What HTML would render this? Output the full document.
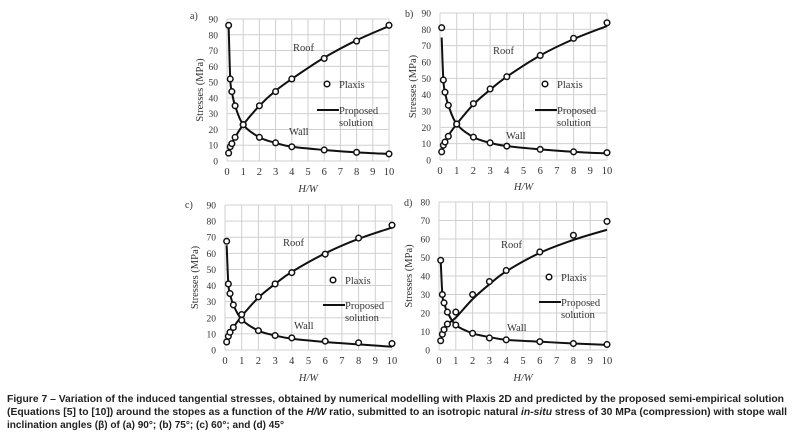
<!DOCTYPE html>
<html><head><meta charset="utf-8"><style>
body{margin:0;background:#fff;width:792px;height:439px;overflow:hidden}
svg{display:block}
.t{font-family:"Liberation Serif",serif;font-size:10.5px;fill:#333}
.cap{font-family:"Liberation Sans",sans-serif;font-size:10px;font-weight:bold;fill:#222}
</style></head><body>
<svg id="s" width="792" height="439" xmlns="http://www.w3.org/2000/svg">
<text class="cap" x="7" y="402" textLength="777" lengthAdjust="spacingAndGlyphs">Figure 7 – Variation of the induced tangential stresses, obtained by numerical modelling with Plaxis 2D and predicted by the proposed semi-empirical solution</text>
<text class="cap" x="7" y="415" textLength="780" lengthAdjust="spacingAndGlyphs">(Equations [5] to [10]) around the stopes as a function of the <tspan font-style="italic">H/W</tspan> ratio, submitted to an isotropic natural <tspan font-style="italic">in-situ</tspan> stress of 30 MPa (compression) with stope wall</text>
<text class="cap" x="7" y="428" textLength="277" lengthAdjust="spacingAndGlyphs">inclination angles (β) of (a) 90°; (b) 75°; (c) 60°; and (d) 45°</text>
</svg>
<script>
const xs=[0.1,0.2,0.3,0.5,1,2,3,4,6,8,10];
const xTicks=[0,1,2,3,4,5,6,7,8,9,10];
const roofA=[5,9,11,15,23,35,44,52,65,76,86];
const wallA=[86,52,44,35,23,15,11.5,9,7,5.5,4.5];
const roofFitA=[5,9,11.5,15,23,35,44.5,52,65.5,76.5,85.5];
const wallFitA=[86,52,44,35,23,15,11.5,9,7,5.5,4.5];
const roofB=[5,9,11,14.5,22,34.5,43.5,51,64,74.5,84];
const wallB=[81,49,41.5,33.5,22,14,10.5,8.5,6.5,5,4.5];
const roofFitB=[5,9,11.5,15,22,34,43,51,64,74,82];
const wallFitB=[75,49,41.5,33.5,22,14,10.5,8.5,6.5,5,4];
const roofC=[5,8.5,11,14,22,33,41,48,59.5,69.5,77.5];
const wallC=[67.5,41,35,28,18.5,12,9,7.5,5.5,4.5,4];
const roofFitC=[5,8.5,11,14,21,32.5,41,48.5,60,69,76];
const wallFitC=[65,41,35,28,19,12,9,7,5,3.5,2];
const roofD=[5,8.5,11,14,20.5,30,37,43,53,62,69.5];
const wallD=[48.5,30,25.5,20.5,13.5,9,6.5,5.5,4.5,3.5,3];
const roofFitD=[5,8.5,11,14,17.5,27.5,35.5,42.5,52.5,59.5,65];
const wallFitD=[48.5,30,25.5,20.5,13.5,9,7,5.5,4.5,3.5,2.8];
const panels=[
 {id:'a',x0:227,x1:389,yT:19,yB:161,ymax:90,roof:roofA,wall:wallA,rf:roofFitA,wf:wallFitA,lab:[190,19],yt:203,xt:192,roofL:[293,51],wallL:[289,135],lg:[327,84,110]},
 {id:'b',x0:440,x1:607,yT:13,yB:160,ymax:90,roof:roofB,wall:wallB,rf:roofFitB,wf:wallFitB,lab:[405,17],yt:416,xt:190,roofL:[493,54],wallL:[506,139],lg:[545,84,110]},
 {id:'c',x0:225,x1:392,yT:205,yB:350,ymax:90,roof:roofC,wall:wallC,rf:roofFitC,wf:wallFitC,lab:[185,208],yt:198,xt:381,roofL:[283,246],wallL:[294,329],lg:[333,280,305]},
 {id:'d',x0:439,x1:607,yT:202,yB:350,ymax:80,roof:roofD,wall:wallD,rf:roofFitD,wf:wallFitD,lab:[404,206],yt:412,xt:381,roofL:[501,248],wallL:[507,331],lg:[549,277,302]}
];
const S=document.getElementById('s');const NS='http://www.w3.org/2000/svg';
function mk(tag,at,parent){const e=document.createElementNS(NS,tag);for(const k in at)e.setAttribute(k,at[k]);(parent||S).appendChild(e);return e;}
function path(pts){let d='M'+pts[0][0]+','+pts[0][1];for(let i=0;i<pts.length-1;i++){const p0=pts[Math.max(0,i-1)],p1=pts[i],p2=pts[i+1],p3=pts[Math.min(pts.length-1,i+2)];const c1=[p1[0]+(p2[0]-p0[0])/6,p1[1]+(p2[1]-p0[1])/6],c2=[p2[0]-(p3[0]-p1[0])/6,p2[1]-(p3[1]-p1[1])/6];d+=' C'+c1+' '+c2+' '+p2;}return d;}
panels.forEach(p=>{
 const X=v=>p.x0+(p.x1-p.x0)*v/10, Y=v=>p.yB-(p.yB-p.yT)*v/p.ymax;
 const g=mk('g',{});
 
 
 xTicks.forEach(t=>{const l=mk('line',{x1:X(t),x2:X(t),y1:p.yT,y2:p.yB,stroke:'#d0d0d0','stroke-width':1},g);
  
  const tx=mk('text',{x:X(t),y:p.yB+14,'text-anchor':'middle',class:'t'},g);tx.textContent=t;
  });
 for(let v=0;v<=p.ymax;v+=10){const l=mk('line',{x1:p.x0,x2:p.x1,y1:Y(v),y2:Y(v),stroke:'#d0d0d0','stroke-width':1},g);
  
  const tx=mk('text',{x:p.x0-9,y:Y(v)+3.5,'text-anchor':'end',class:'t',style:'font-size:9.5px'},g);tx.textContent=v;
  }
 const yt=mk('text',{x:p.yt,y:(p.yT+p.yB)/2,'text-anchor':'middle',class:'t',transform:`rotate(-90 ${p.yt} ${(p.yT+p.yB)/2})`},g);yt.textContent='Stresses (MPa)';
 
 const xt=mk('text',{x:(p.x0+p.x1)/2,y:p.xt,'text-anchor':'middle',class:'t','font-style':'italic'},g);xt.textContent='H/W';
 
 const lb=mk('text',{x:p.lab[0],y:p.lab[1],class:'t',style:'font-size:10px'},g);lb.textContent=p.id+')';
 
 [[p.rf,'roof-fit-line'],[p.wf,'wall-fit-line']].forEach(([arr,nm])=>{const pa=mk('path',{d:path(xs.map((x,i)=>[X(x),Y(arr[i])])),fill:'none',stroke:'#111','stroke-width':2},g);
  });
 [[p.roof,'roof-point'],[p.wall,'wall-point']].forEach(([arr,nm])=>xs.forEach((x,i)=>{const c=mk('circle',{cx:X(x),cy:Y(arr[i]),r:2.8,fill:'#fff',stroke:'#111','stroke-width':1.5},g);
  }));
 const r=mk('text',{x:p.roofL[0],y:p.roofL[1],class:'t'},g);r.textContent='Roof';
 
 const w=mk('text',{x:p.wallL[0],y:p.wallL[1],class:'t'},g);w.textContent='Wall';
 
 const lc=mk('circle',{cx:p.lg[0],cy:p.lg[1],r:2.8,fill:'#fff',stroke:'#111','stroke-width':1.5},g);
 
 const lt=mk('text',{x:p.lg[0]+12,y:p.lg[1]+4,class:'t'},g);lt.textContent='Plaxis';
 
 const ll=mk('line',{x1:p.lg[0]-10,x2:p.lg[0]+12,y1:p.lg[2],y2:p.lg[2],stroke:'#111','stroke-width':2},g);
 
 const l1=mk('text',{x:p.lg[0]+12,y:p.lg[2]+4,class:'t'},g);l1.textContent='Proposed';
 
 const l2=mk('text',{x:p.lg[0]+12,y:p.lg[2]+16,class:'t'},g);l2.textContent='solution';
 
});
</script>
</body></html>
